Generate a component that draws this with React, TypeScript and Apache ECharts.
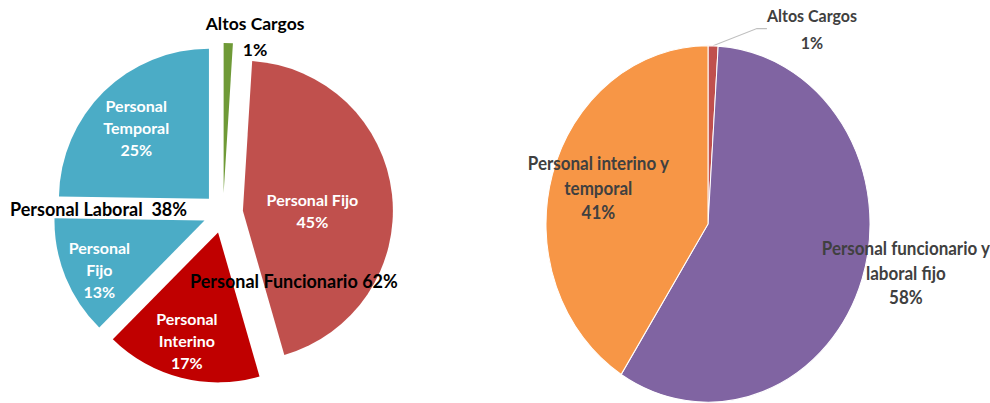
import React, { useEffect, useRef } from 'react';
import * as echarts from 'echarts';

// Left chart: exploded pie (Personal Laboral / Funcionario breakdown)
const leftNames = ['Altos Cargos', 'Personal Fijo', 'Personal\nInterino', 'Personal\nFijo', 'Personal\nTemporal'];
const leftValues = [1, 45, 17, 13, 25];
const leftColors = ['#6F9A37', '#C0504D', '#C00000', '#4BACC6', '#4BACC6'];
const laboralIdx = [3, 4];
const funcionarioIdx = [1, 2];
const groupLabels = ['Personal Laboral', 'Personal Funcionario'];

// Right chart
const rightNames = ['Altos Cargos', 'Personal funcionario y\nlaboral fijo', 'Personal interino y\ntemporal'];
const rightValues = [1, 58, 41];
const rightColors = ['#C0504D', '#8064A2', '#F79646'];

const FONT = 'Lato, "Open Sans", sans-serif';

const leftOffsets = [[29, -79], [-8, 8], [-12, 33], [-33, 19], [-18, -16]];
const rightOffsets = [[0, 0], [118, 18], [-29, -10]];

export default function App() {
  const leftRef = useRef<HTMLDivElement>(null);
  const rightRef = useRef<HTMLDivElement>(null);

  useEffect(() => {
    const l = echarts.init(leftRef.current!, undefined, { renderer: 'svg' });
    const r = echarts.init(rightRef.current!, undefined, { renderer: 'svg' });

    const sum = (idx: number[]) => idx.reduce((s, i) => s + leftValues[i], 0);

    l.setOption({
      animation: false,
      series: [
        {
          type: 'pie',
          center: [223, 213],
          radius: 150,
          startAngle: 90,
          clockwise: true,
          selectedMode: 'multiple',
          selectedOffset: 20,
          emphasis: { disabled: true },
          label: {
            show: true,
            position: 'inside',
            color: '#fff',
            fontFamily: FONT,
            fontWeight: 'bold',
            fontSize: 16,
            lineHeight: 22,
            formatter: (p: any) => `${p.name}\n${p.value}%`,
          },
          labelLine: { show: false },
          data: leftValues.map((v, i) => {
            const lab = i === 0
              ? { color: '#000', fontSize: 17.5, lineHeight: 26, offset: leftOffsets[i] }
              : { offset: leftOffsets[i] };
            return {
              name: leftNames[i],
              value: v,
              selected: true,
              itemStyle: { color: leftColors[i] },
              label: lab,
              select: { itemStyle: { color: leftColors[i] }, label: lab },
            };
          }),
        },
      ],
      graphic: [
        {
          type: 'text',
          left: 10,
          top: 200,
          z: 100,
          style: {
            text: `${groupLabels[0]}  ${sum(laboralIdx)}%`,
            fill: '#000',
            font: `bold 18px ${FONT}`,
          },
        },
        {
          type: 'text',
          left: 190,
          top: 272,
          z: 100,
          style: {
            text: `${groupLabels[1]} ${sum(funcionarioIdx)}%`,
            fill: '#000',
            font: `bold 18px ${FONT}`,
          },
        },
      ],
    });

    r.setOption({
      animation: false,
      series: [
        {
          type: 'pie',
          center: [228, 203.6],
          radius: 162,
          startAngle: 90,
          clockwise: true,
          emphasis: { disabled: true },
          itemStyle: { borderColor: '#fff', borderWidth: 1 },
          label: {
            show: true,
            position: 'inside',
            color: '#404040',
            fontFamily: FONT,
            fontWeight: 'bold',
            fontSize: 17,
            lineHeight: 22,
            formatter: (p: any) => `${p.name}\n${p.value}%`,
          },
          labelLine: { show: false },
          labelLayout: (p: any) =>
            p.dataIndex === 0 ? { x: 332, y: 26, align: 'center', verticalAlign: 'middle' } : {},
          data: rightValues.map((v, i) => ({
            name: rightNames[i],
            value: v,
            itemStyle: { color: rightColors[i] },
            label: i === 0
              ? { position: 'outside', fontSize: 16, lineHeight: 24, offset: rightOffsets[i] }
              : { offset: rightOffsets[i] },
            labelLine: i === 0
              ? { show: true, length: 10, length2: 10, lineStyle: { color: '#bfbfbf', width: 1 } }
              : { show: false },
          })),
        },
      ],
    });

    return () => {
      l.dispose();
      r.dispose();
    };
  }, []);

  return (
    <>
      <div
        ref={leftRef}
        style={{ position: 'absolute', left: 0, top: 0, width: 480, height: 403 }}
      />
      <div
        ref={rightRef}
        style={{
          position: 'absolute',
          left: 480,
          top: 0,
          width: 510,
          height: 366,
          transform: 'scaleY(1.1)',
          transformOrigin: 'top left',
        }}
      />
    </>
  );
}
